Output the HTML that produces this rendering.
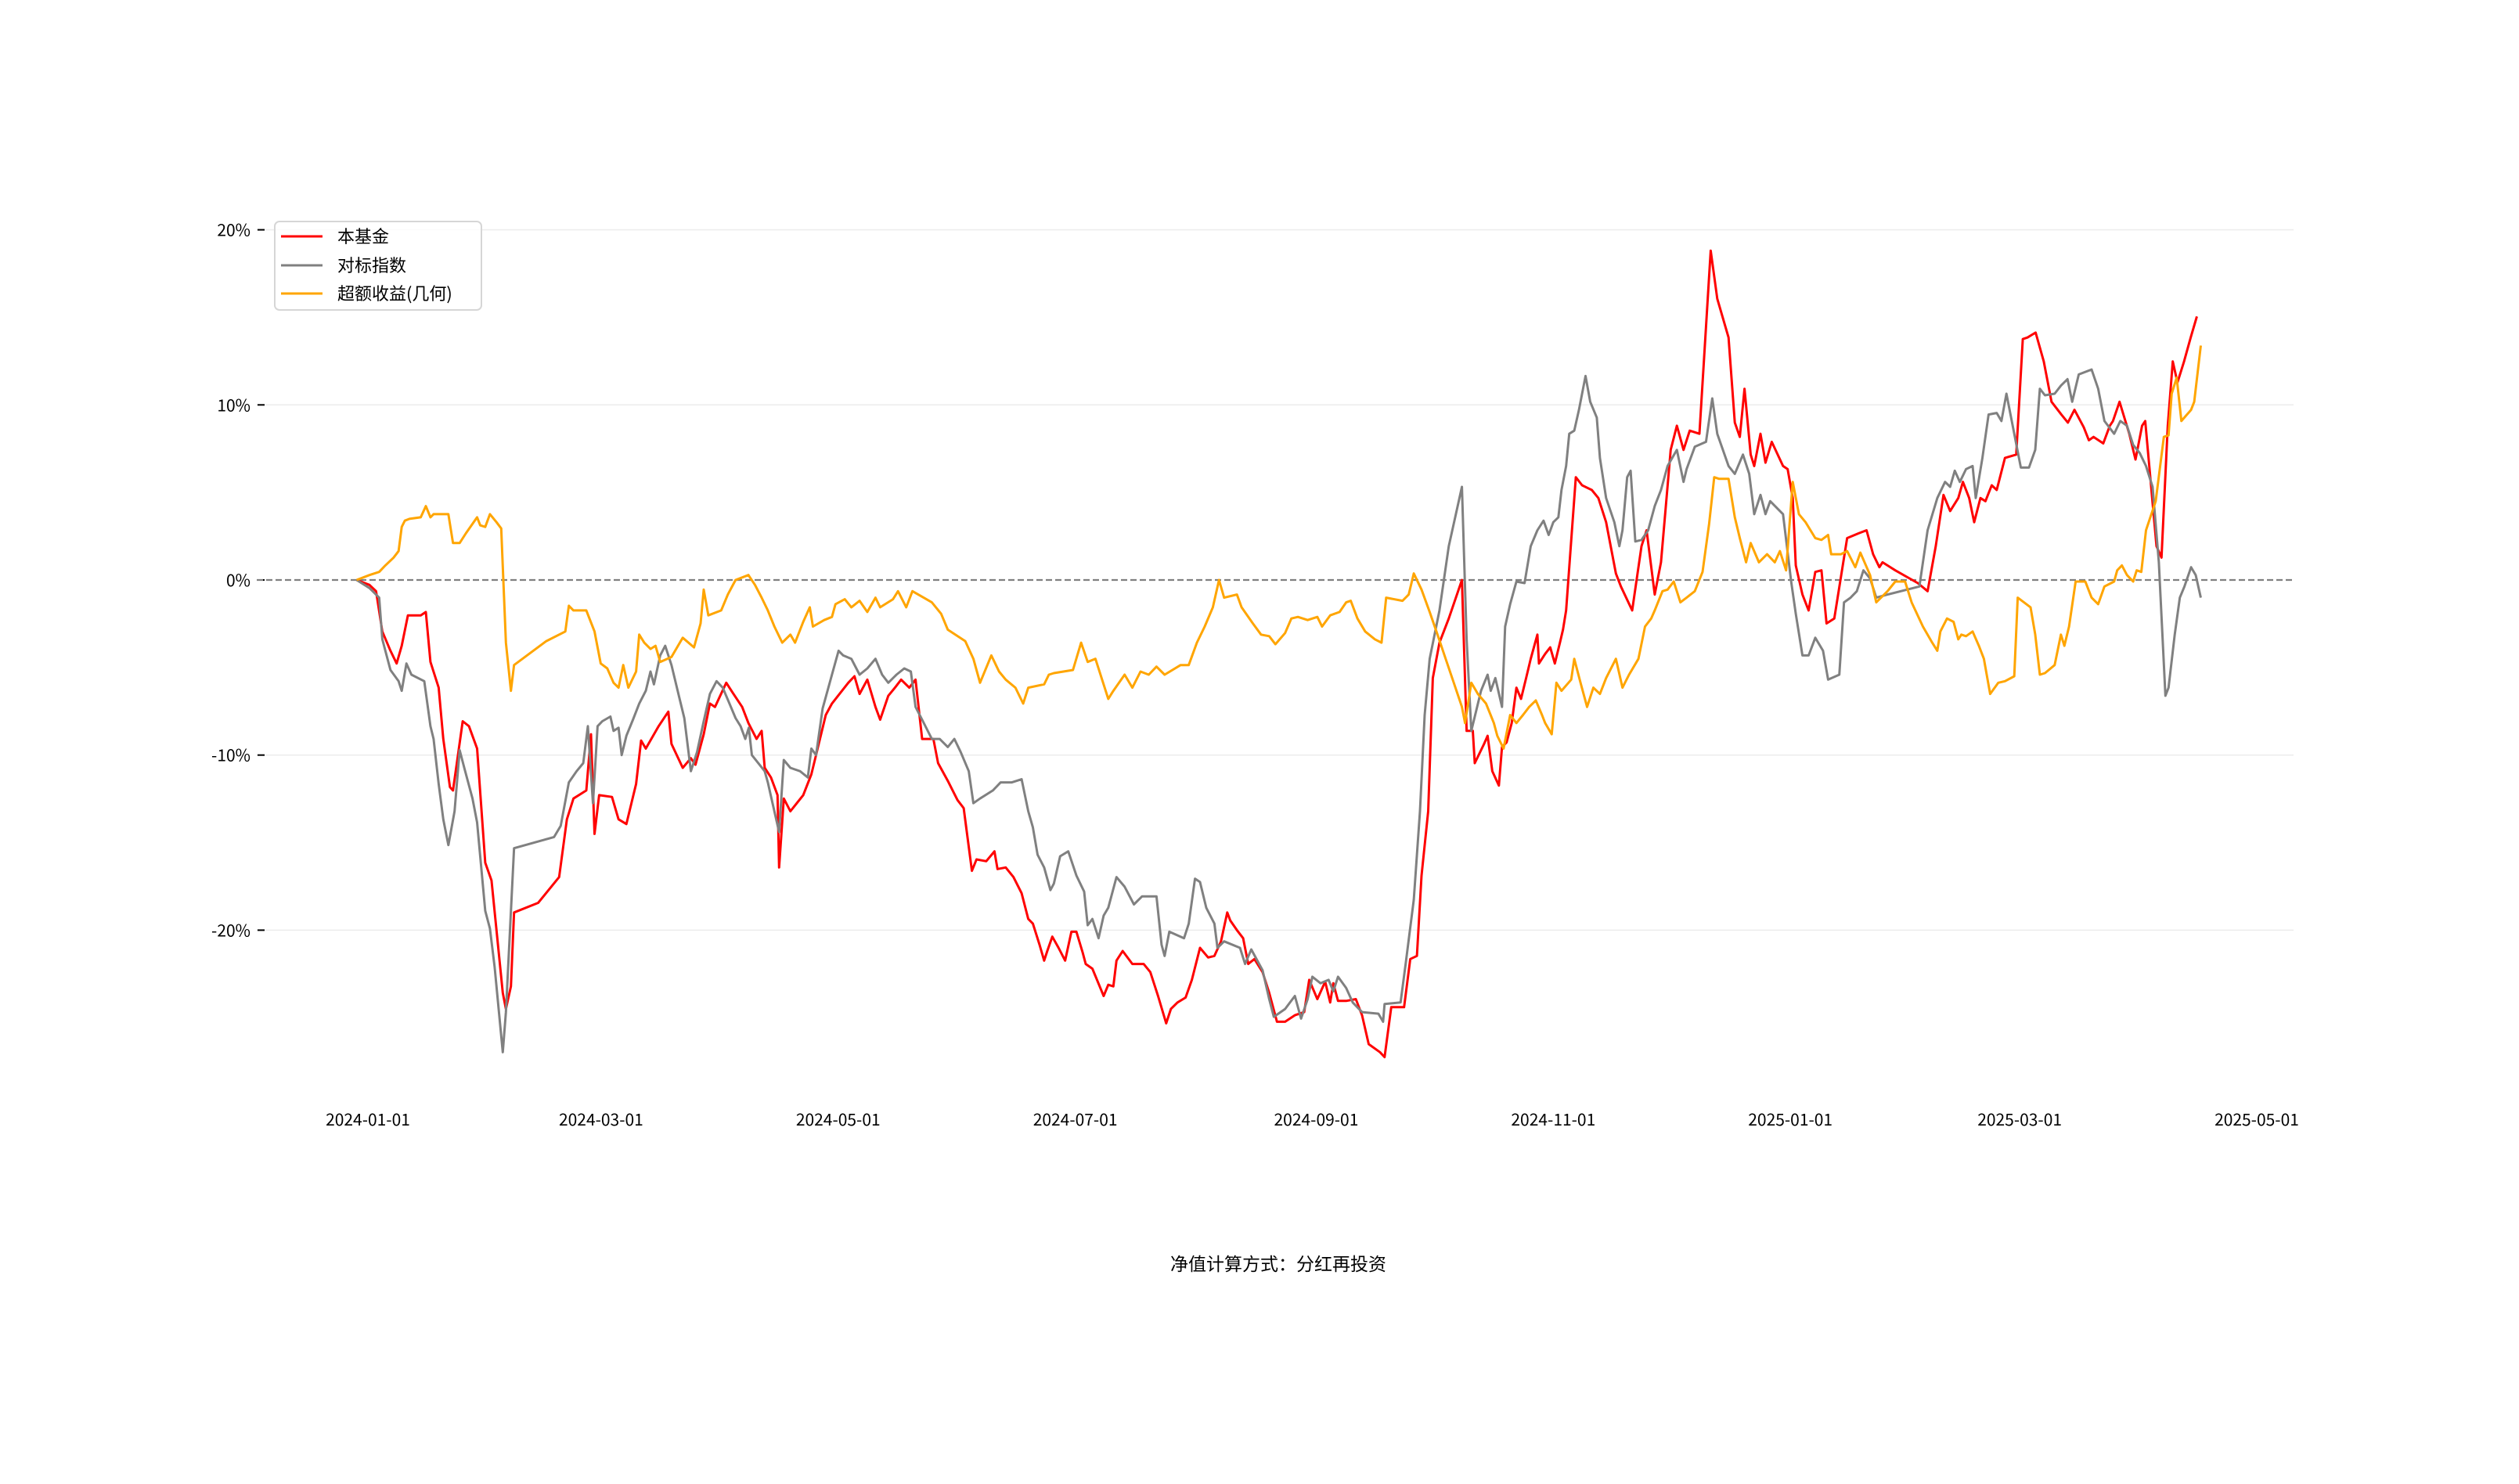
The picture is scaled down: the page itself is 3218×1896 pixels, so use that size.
<!DOCTYPE html>
<html><head><meta charset="utf-8">
<style>
html,body{margin:0;padding:0;background:#fff;}
svg{display:block;}
text{font-family:"WenQuanYi Zen Hei","Noto Sans CJK SC",sans-serif;fill:#000;}
</style></head>
<body>
<svg id="chart" width="3218" height="1896" viewBox="0 0 3218 1896" xmlns="http://www.w3.org/2000/svg">
<g id="grid"></g>
<g id="yaxis"></g>
<g id="xaxis"></g>
<line x1="328" x2="2930" y1="741" y2="741" stroke="#808080" stroke-width="2.2" stroke-dasharray="8,4"/>
<g id="series"></g>
<g>
<rect x="351" y="283" width="264" height="113" rx="6" fill="#fff" fill-opacity="0.8" stroke="#d6d6d6" stroke-width="2"/>
<g><line x1="359" x2="412" y1="302" y2="302" stroke="#ff0000" stroke-width="3"/><text x="431" y="310" font-size="22">本基金</text></g>
<g><line x1="359" x2="412" y1="339" y2="339" stroke="#808080" stroke-width="3"/><text x="431" y="347" font-size="22">对标指数</text></g>
<g><line x1="359" x2="412" y1="375" y2="375" stroke="#ffa500" stroke-width="3"/><text x="431" y="383" font-size="22">超额收益(几何)</text></g>
</g>
<text x="1633" y="1623" font-size="23" text-anchor="middle">净值计算方式：分红再投资</text>
</svg>
<script>
const yTicks = [-20, -10, 0, 10, 20];
const yTickLabels = ["-20%", "-10%", "0%", "10%", "20%"];
const xTickDays = [0, 60, 121, 182, 244, 305, 366, 425, 486];
const xTickLabels = ["2024-01-01","2024-03-01","2024-05-01","2024-07-01","2024-09-01","2024-11-01","2025-01-01","2025-03-01","2025-05-01"];

const fundDays = [-2.9,0.4,2.1,3.7,5.8,7.4,8.7,10.3,13.6,14.9,16.1,18.2,19.4,21.1,21.9,24.4,26.0,28.1,30.2,31.8,34.7,35.5,36.8,37.6,43.8,49.2,51.2,52.9,56.2,57.4,58.3,59.5,62.8,64.5,66.5,69.0,70.3,71.5,74.8,77.3,78.1,81.0,83.1,84.3,86.4,88.0,89.3,92.2,93.8,96.3,97.9,100.0,101.3,102.1,103.7,105.4,105.8,107.0,108.7,112.0,114.1,115.3,117.8,119.4,123.6,125.2,126.5,128.5,130.6,131.8,133.9,135.6,137.2,139.3,140.9,142.6,145.5,146.7,149.2,151.7,153.3,155.4,156.6,159.1,161.2,162.0,164.1,166.1,168.2,169.9,171.1,172.8,174.0,174.8,176.1,177.7,179.4,181.0,182.3,183.9,184.7,186.4,189.3,190.5,191.8,192.6,194.2,196.7,199.6,201.3,203.3,205.4,206.6,208.3,210.4,212.0,214.1,216.2,217.8,219.5,221.1,221.9,223.6,225.2,226.5,228.1,230.2,231.9,233.9,236.0,238.5,240.9,242.2,244.3,246.3,247.6,248.4,249.6,251.7,254.2,255.8,257.5,260.4,261.6,263.3,266.6,268.2,269.9,271.1,272.8,274.0,275.7,278.1,281.5,282.7,284.3,284.8,287.2,288.1,289.3,291.0,291.8,293.0,294.3,295.5,296.7,298.0,299.2,300.9,301.3,302.9,304.2,305.4,306.7,307.5,308.3,310.8,312.4,314.9,316.6,318.6,321.1,322.4,325.3,327.7,329.0,331.1,332.7,335.2,336.8,338.5,340.1,342.6,345.5,347.2,350.1,351.7,353.0,354.2,355.8,356.7,358.3,359.6,361.2,364.1,365.3,366.6,367.4,369.1,370.7,372.4,374.0,375.3,377.3,380.6,383.5,385.6,387.3,388.9,389.7,393.0,398.8,401.3,403.4,405.4,407.1,409.2,410.4,412.0,413.3,414.9,416.2,417.8,419.1,421.2,424.1,425.8,427.0,429.1,431.2,433.2,435.7,437.4,439.1,441.5,442.8,444.0,446.5,448.2,449.0,450.7,453.2,454.8,456.5,457.3,460.2,461.5,463.1,464.4,465.6,467.3,469.0,470.6];
const fundVals = [0,-0.28,-0.64,-2.94,-4.04,-4.77,-3.76,-2.02,-2.02,-1.83,-4.68,-6.15,-9.08,-11.83,-12.02,-8.07,-8.35,-9.63,-16.15,-17.16,-23.58,-24.5,-23.21,-18.99,-18.44,-16.97,-13.67,-12.48,-12.02,-8.81,-14.5,-12.29,-12.39,-13.67,-13.94,-11.65,-9.17,-9.63,-8.35,-7.52,-9.36,-10.73,-10.18,-10.55,-8.81,-7.06,-7.25,-5.87,-6.42,-7.25,-8.17,-9.08,-8.62,-10.73,-11.28,-12.29,-16.42,-12.48,-13.21,-12.29,-11.1,-10.0,-7.71,-7.06,-5.87,-5.5,-6.51,-5.69,-7.25,-7.98,-6.61,-6.15,-5.69,-6.15,-5.69,-9.08,-9.08,-10.46,-11.47,-12.57,-13.03,-16.61,-15.96,-16.06,-15.5,-16.51,-16.42,-16.97,-17.89,-19.36,-19.63,-20.83,-21.74,-21.19,-20.37,-21.01,-21.74,-20.09,-20.09,-21.28,-21.93,-22.2,-23.76,-23.12,-23.21,-21.74,-21.19,-21.93,-21.93,-22.39,-23.76,-25.32,-24.5,-24.13,-23.85,-22.84,-21.01,-21.56,-21.47,-20.64,-18.99,-19.45,-20.0,-20.46,-21.93,-21.65,-22.39,-23.58,-25.23,-25.23,-24.86,-24.68,-22.84,-23.94,-22.94,-24.13,-23.03,-24.04,-24.04,-23.94,-24.86,-26.51,-26.97,-27.25,-24.4,-24.4,-21.65,-21.47,-16.88,-13.21,-5.6,-3.58,-2.2,0,-8.62,-8.62,-10.46,-9.36,-8.9,-10.92,-11.74,-9.54,-9.27,-8.17,-6.15,-6.79,-5.6,-4.5,-3.12,-4.77,-4.22,-3.85,-4.77,-3.58,-2.84,-1.74,5.87,5.41,5.14,4.68,3.3,0.37,-0.37,-1.74,1.93,2.84,-0.83,1.01,7.43,8.81,7.43,8.53,8.35,18.81,16.06,13.85,8.99,8.17,10.92,7.16,6.51,8.35,6.7,7.89,6.51,6.33,4.68,0.83,-0.83,-1.74,0.46,0.55,-2.48,-2.2,2.39,2.66,2.84,1.47,0.73,1.01,0.55,-0.18,-0.64,1.93,4.86,3.94,4.68,5.6,4.68,3.3,4.68,4.5,5.41,5.14,6.97,7.16,13.76,13.85,14.13,12.48,10.18,9.45,8.99,9.72,8.72,7.98,8.17,7.8,8.81,9.08,10.18,8.35,6.88,8.81,9.08,1.93,1.28,8.81,12.48,11.28,12.48,13.85,15.05];

const indexDays = [-2.9,0.4,2.9,3.7,5.8,7.9,8.7,9.9,11.2,14.5,16.1,16.9,18.2,19.4,20.7,22.3,23.6,24.8,26.9,28.1,30.2,31.4,32.6,34.7,35.5,37.6,47.9,49.6,51.7,53.7,55.4,56.6,57.9,59.1,60.3,62.4,63.2,64.5,65.3,66.5,68.2,69.8,71.5,72.7,73.6,75.2,76.5,78.1,80.2,81.4,83.1,84.7,86.4,88.0,89.7,91.3,93.4,94.6,95.9,97.1,98.0,98.8,102.1,102.9,104.1,105.8,107.0,108.7,111.2,113.2,114.1,115.3,117.0,119.4,121.1,122.3,124.4,126.5,128.5,130.6,132.3,133.9,136.0,138.0,139.7,140.9,142.6,145.1,147.1,149.2,150.9,152.5,154.6,155.8,157.5,160.8,162.8,165.7,168.2,169.9,171.1,172.3,174.0,175.6,176.5,178.1,180.2,182.3,184.3,185.2,186.4,188.0,189.3,190.5,192.6,194.7,197.1,199.2,202.9,204.2,205.0,206.2,210.0,211.2,212.8,214.1,215.7,217.8,218.6,220.3,224.4,225.7,227.3,230.2,231.9,233.1,236.0,238.5,240.1,241.8,243.0,245.1,247.2,248.4,249.6,251.7,253.4,255.8,260.0,261.2,261.6,265.7,267.0,269.1,270.7,271.9,273.2,275.7,278.1,281.5,282.7,283.9,286.4,288.1,288.9,290.1,291.8,292.6,293.9,295.5,297.6,299.2,300.9,302.5,303.8,305.0,306.3,307.1,308.3,309.1,310.4,311.6,313.3,314.5,316.2,317.0,318.6,320.7,322.0,322.8,324.0,324.9,326.1,327.7,329.4,331.1,332.7,334.4,336.8,338.5,339.3,341.4,344.3,345.9,347.2,350.1,351.7,353.8,355.4,356.7,358.3,359.6,360.8,364.1,366.2,367.4,369.1,370.7,372.4,374.4,375.7,378.6,379.8,381.5,383.1,384.8,386.5,388.1,391.0,399.2,401.3,403.8,405.8,407.1,408.3,409.6,411.2,412.9,413.7,415.4,417.0,419.1,420.3,421.6,423.2,425.3,427.4,429.0,430.2,431.5,434.0,435.6,437.3,438.5,440.2,443.5,445.2,446.8,449.3,450.9,452.6,454.2,455.9,457.5,459.2,460.8,462.5,463.3,464.9,466.2,467.4,469.1,470.3,471.6];
const indexVals = [0,-0.46,-1.01,-3.39,-5.14,-5.78,-6.33,-4.77,-5.41,-5.78,-8.35,-9.08,-11.65,-13.67,-15.14,-13.21,-9.72,-10.73,-12.48,-13.85,-18.9,-19.91,-22.11,-26.97,-24.68,-15.32,-14.68,-14.04,-11.56,-10.92,-10.46,-8.35,-12.75,-8.35,-8.07,-7.8,-8.62,-8.44,-10.0,-8.9,-7.98,-7.06,-6.33,-5.23,-5.96,-4.31,-3.76,-4.86,-6.79,-7.89,-10.92,-9.82,-8.07,-6.51,-5.78,-6.15,-7.25,-7.89,-8.35,-9.08,-8.44,-10.0,-10.92,-11.56,-12.75,-14.4,-10.28,-10.73,-10.92,-11.28,-9.63,-10.0,-7.34,-5.41,-4.04,-4.31,-4.5,-5.41,-5.05,-4.5,-5.41,-5.87,-5.41,-5.05,-5.23,-7.25,-7.98,-9.08,-9.08,-9.54,-9.08,-9.82,-10.92,-12.75,-12.48,-12.02,-11.56,-11.56,-11.38,-13.21,-14.13,-15.69,-16.42,-17.71,-17.34,-15.78,-15.5,-16.88,-17.8,-19.72,-19.36,-20.46,-19.17,-18.72,-16.97,-17.52,-18.53,-18.07,-18.07,-20.83,-21.47,-20.09,-20.46,-19.63,-17.06,-17.25,-18.72,-19.63,-21.01,-20.64,-21.01,-21.93,-21.1,-22.29,-23.94,-24.95,-24.5,-23.76,-25.05,-23.94,-22.66,-23.03,-22.84,-23.49,-22.66,-23.3,-24.13,-24.68,-24.77,-25.23,-24.22,-24.13,-21.93,-18.26,-13.21,-7.71,-4.5,-1.74,1.93,5.32,-3.39,-8.62,-6.33,-5.41,-6.33,-5.6,-7.25,-2.66,-1.38,-0.09,-0.18,1.93,2.84,3.39,2.57,3.3,3.58,5.14,6.51,8.35,8.53,9.72,11.65,10.18,9.27,6.97,4.68,3.3,1.93,2.84,5.87,6.24,2.2,2.29,2.84,4.22,5.14,6.51,7.43,5.6,6.33,7.61,7.89,10.37,8.35,6.51,6.06,7.16,6.06,3.76,4.86,3.76,4.5,3.76,-0.09,-1.93,-4.31,-4.31,-3.3,-4.04,-5.69,-5.41,-1.28,-1.01,-0.64,0.55,0.09,-1.01,-0.83,-0.37,2.84,4.68,5.6,5.32,6.24,5.6,6.33,6.51,4.68,6.97,9.45,9.54,9.08,10.64,8.81,6.42,6.42,7.43,10.92,10.55,10.64,11.1,11.47,10.18,11.74,12.02,10.92,9.08,8.35,9.08,8.81,7.71,7.25,6.51,5.32,1.01,-6.61,-6.15,-3.12,-1.01,-0.37,0.73,0.28,-1.01];

const excessDays = [-2.9,0.4,2.9,4.5,6.6,7.9,8.7,9.5,10.7,13.6,14.9,16.1,16.9,20.7,21.9,23.6,25.2,28.1,28.9,30.2,31.4,33.1,34.3,35.5,36.8,37.6,45.9,50.8,51.7,52.9,56.2,58.3,59.9,61.6,63.2,64.5,65.7,67.0,69.0,69.8,71.1,72.7,74.0,75.2,78.1,81.0,83.9,85.6,86.4,87.6,90.9,92.6,94.6,97.9,99.6,101.3,102.9,104.6,106.6,108.7,109.9,112.0,113.7,114.5,117.4,119.4,120.3,122.7,124.4,126.5,128.5,130.6,131.8,135.1,136.4,138.5,140.1,143.0,145.1,147.5,149.2,153.7,155.8,157.5,160.4,162.4,164.1,166.6,168.6,169.9,174.0,175.2,176.5,181.4,183.5,185.2,187.2,190.5,191.8,194.7,196.7,198.8,200.9,202.9,205.0,209.1,211.2,213.3,215.3,217.4,219.0,220.3,223.6,224.8,227.7,229.8,231.9,233.5,236.0,237.6,239.3,241.8,244.3,245.5,247.6,250.0,251.7,252.9,254.6,256.6,259.1,260.8,262.0,266.2,267.8,269.1,271.1,273.2,275.2,277.3,279.4,281.5,282.3,283.9,285.6,287.7,289.7,290.6,292.2,293.9,295.5,297.2,298.8,300.5,302.1,302.9,304.6,305.8,307.1,309.6,310.4,312.0,313.7,315.3,317.0,318.6,321.1,322.8,324.5,326.9,328.6,330.2,331.1,333.1,334.4,336.0,337.7,339.3,341.4,343.4,345.1,346.4,347.6,350.1,351.7,353.0,354.6,355.8,357.9,360.0,362.0,363.3,364.9,366.6,368.2,369.9,372.4,374.0,375.7,376.5,379.0,380.6,382.7,384.0,386.5,388.1,391.0,393.0,395.5,397.2,400.1,402.5,403.8,404.6,406.3,408.0,409.2,410.0,411.2,412.9,414.5,415.8,417.4,419.5,421.2,423.6,424.5,426.1,427.8,429.0,430.2,431.5,434.0,435.6,436.5,437.7,439.4,441.9,443.5,445.2,446.8,449.3,450.1,451.3,452.6,454.2,455.1,456.3,457.5,460.0,462.1,463.3,464.1,465.4,466.6,469.1,469.9,471.6];
const excessVals = [0,0.28,0.46,0.83,1.28,1.65,3.03,3.39,3.49,3.58,4.22,3.58,3.76,3.76,2.11,2.11,2.66,3.58,3.12,3.03,3.76,3.3,2.94,-3.58,-6.33,-4.86,-3.49,-2.94,-1.47,-1.74,-1.74,-2.94,-4.77,-5.05,-5.87,-6.15,-4.86,-6.15,-5.23,-3.12,-3.58,-3.94,-3.76,-4.68,-4.4,-3.3,-3.85,-2.48,-0.55,-2.02,-1.74,-0.83,0,0.28,-0.28,-1.01,-1.74,-2.66,-3.58,-3.12,-3.58,-2.39,-1.56,-2.66,-2.29,-2.11,-1.38,-1.1,-1.56,-1.19,-1.83,-1.01,-1.56,-1.1,-0.64,-1.56,-0.64,-1.01,-1.28,-1.93,-2.84,-3.49,-4.5,-5.87,-4.31,-5.23,-5.69,-6.15,-7.06,-6.15,-5.96,-5.41,-5.32,-5.14,-3.58,-4.68,-4.5,-6.79,-6.33,-5.41,-6.15,-5.23,-5.41,-4.95,-5.41,-4.86,-4.86,-3.58,-2.66,-1.56,0,-1.01,-0.83,-1.56,-2.48,-3.12,-3.21,-3.67,-3.03,-2.2,-2.11,-2.29,-2.11,-2.66,-2.02,-1.83,-1.28,-1.19,-2.2,-2.94,-3.39,-3.58,-1.01,-1.19,-0.83,0.37,-0.55,-1.83,-3.12,-4.5,-5.87,-7.25,-8.17,-5.87,-6.51,-7.06,-8.17,-8.9,-9.63,-7.71,-8.17,-7.71,-7.25,-6.88,-7.71,-8.17,-8.81,-5.87,-6.33,-5.69,-4.5,-5.87,-7.25,-6.15,-6.51,-5.6,-4.5,-6.15,-5.41,-4.5,-2.66,-2.2,-1.74,-0.64,-0.55,-0.09,-1.28,-1.01,-0.64,0.46,3.21,5.87,5.78,5.78,3.58,2.39,1.01,2.11,1.01,1.47,1.01,1.65,0.55,5.6,3.76,3.3,2.39,2.29,2.57,1.47,1.47,1.65,0.73,1.56,0.28,-1.28,-0.64,-0.09,-0.09,-1.28,-2.66,-3.58,-4.04,-2.94,-2.2,-2.39,-3.39,-3.12,-3.21,-2.94,-3.76,-4.5,-6.51,-5.87,-5.78,-5.5,-1.01,-1.28,-1.56,-3.12,-5.41,-5.32,-4.86,-3.12,-3.76,-2.66,-0.09,-0.09,-1.01,-1.38,-0.37,-0.09,0.55,0.83,0.28,-0.09,0.55,0.46,2.84,4.5,8.17,8.26,10.64,11.56,9.08,9.72,10.18,13.39];

const NS = "http://www.w3.org/2000/svg";
const X0 = 470, PX_PER_DAY = 4.965, Y0 = 741, PX_PER_PCT = 22.37;
function xScale(d){ return X0 + d * PX_PER_DAY; }
function yScale(v){ return Y0 - v * PX_PER_PCT; }

const grid = document.getElementById('grid');
const yaxis = document.getElementById('yaxis');
const xaxis = document.getElementById('xaxis');
const series = document.getElementById('series');

yTicks.forEach((t, i) => {
  const y = yScale(t);
  if (t !== 0) {
    const g = document.createElementNS(NS, 'line');
    
    
    g.setAttribute('x1', 328); g.setAttribute('x2', 2930);
    g.setAttribute('y1', y); g.setAttribute('y2', y);
    g.setAttribute('stroke', '#ececec'); g.setAttribute('stroke-width', '1.5');
    grid.appendChild(g);
  }
  const tk = document.createElementNS(NS, 'line');
  
  
  tk.setAttribute('x1', 329); tk.setAttribute('x2', 338);
  tk.setAttribute('y1', y); tk.setAttribute('y2', y);
  tk.setAttribute('stroke', '#000'); tk.setAttribute('stroke-width', '2');
  yaxis.appendChild(tk);
  const lb = document.createElementNS(NS, 'text');
  
  
  lb.setAttribute('x', 320); lb.setAttribute('y', y + 8);
  lb.setAttribute('font-size', '21'); lb.setAttribute('text-anchor', 'end');
  lb.textContent = yTickLabels[i];
  yaxis.appendChild(lb);
});

xTickDays.forEach((d, i) => {
  const lb = document.createElementNS(NS, 'text');
  
  
  lb.setAttribute('x', xScale(d)); lb.setAttribute('y', 1438);
  lb.setAttribute('font-size', '21'); lb.setAttribute('text-anchor', 'middle');
  lb.textContent = xTickLabels[i];
  xaxis.appendChild(lb);
});

function drawLine(days, vals, color, name) {
  let d = '';
  for (let i = 0; i < days.length; i++) {
    d += (i ? 'L' : 'M') + xScale(days[i]).toFixed(1) + ',' + yScale(vals[i]).toFixed(1);
  }
  const p = document.createElementNS(NS, 'path');
  
  
  p.setAttribute('d', d);
  p.setAttribute('fill', 'none');
  p.setAttribute('stroke', color);
  p.setAttribute('stroke-width', '3');
  p.setAttribute('stroke-linejoin', 'round');
  series.appendChild(p);
}
drawLine(fundDays, fundVals, '#ff0000', 'fund-line');
drawLine(indexDays, indexVals, '#808080', 'index-line');
drawLine(excessDays, excessVals, '#ffa500', 'excess-return-line');
</script>
</body></html>
